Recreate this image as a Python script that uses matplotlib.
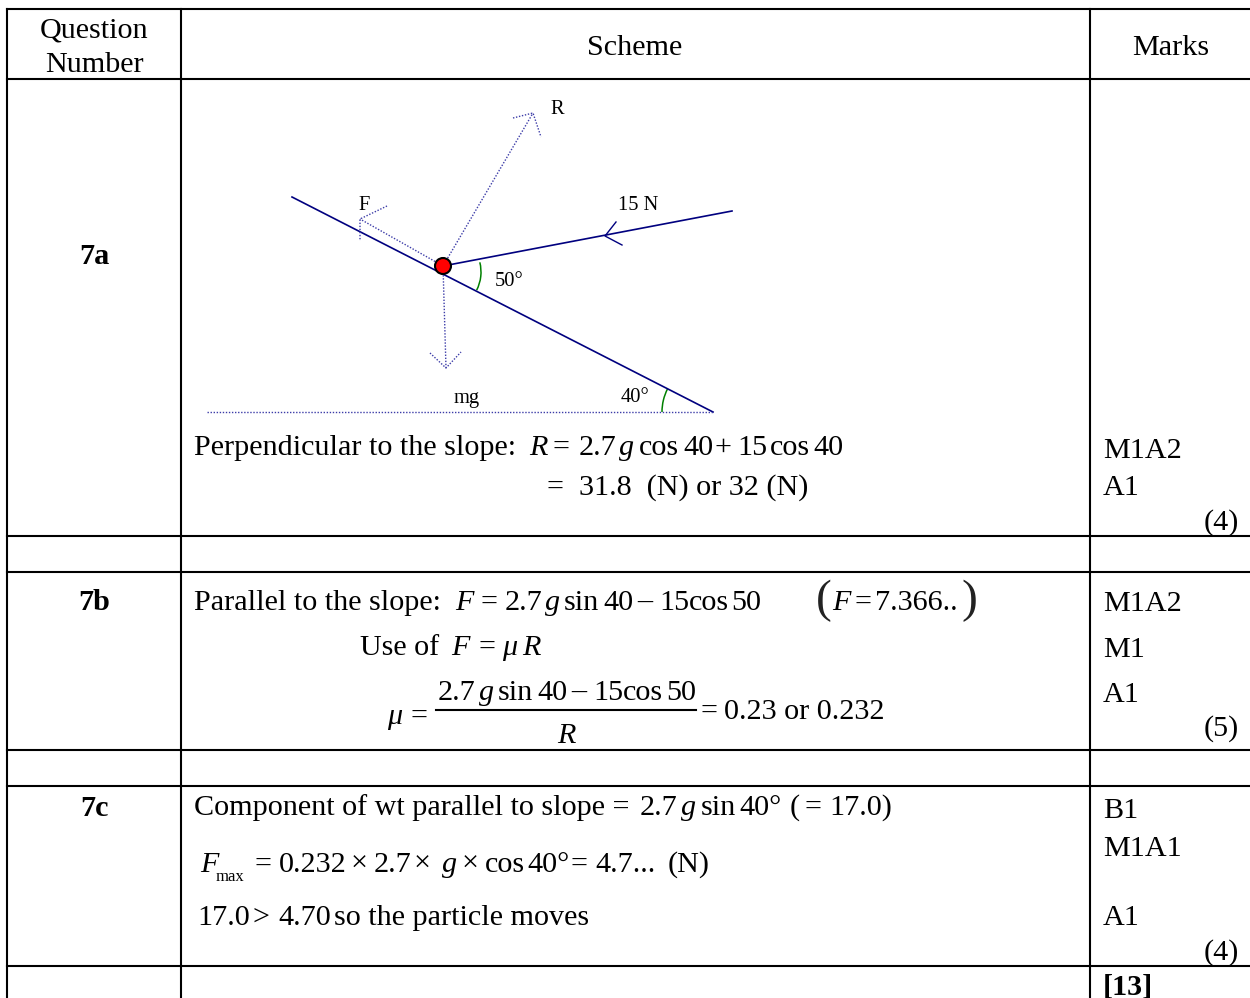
import matplotlib
matplotlib.use("Agg")
import matplotlib.pyplot as plt
from matplotlib.patches import Arc, Circle

W, H = 1250, 998
plt.rcParams['font.family'] = ['Liberation Serif', 'DejaVu Serif']

# table grid
h_rules = [9, 79, 536, 572, 750, 786, 966]
v_rules = [7, 181, 1090]

headers = [(94, 30, "Question"), (94, 65, "Number"),
           (635, 48, "Scheme"), (1171, 48, "Marks")]
question_ids = [(94, 257, "7a"), (94, 602, "7b"), (94, 809, "7c")]
marks = [(1103, 451, "M1A2"), (1103, 488, "A1"), (1239, 523, "(4)"),
         (1103, 604, "M1A2"), (1103, 650, "M1"), (1103, 695, "A1"), (1239, 729, "(5)"),
         (1103, 811, "B1"), (1103, 849, "M1A1"), (1103, 918, "A1"), (1239, 953, "(4)")]
total = (1103, 987, "[13]")

R = 'r'; I = 'i'
# working text, split into fragments: x, y centre, text, style
working = [
    (194, 448, "Perpendicular to the slope:", R),
    (529, 448, "R", I), (552, 448, "=", R), (579, 448, "2.7", R), (619, 448, "g", I),
    (639, 448, "cos", R), (683, 448, "40", R), (714, 448, "+", R), (737, 448, "15", R),
    (770, 448, "cos", R), (813, 448, "40", R),
    (547, 488, "=  31.8  (N) or 32 (N)", R),
    (194, 603, "Parallel to the slope:", R),
    (455, 603, "F", I), (480, 603, "=", R), (505, 603, "2.7", R), (545, 603, "g", I),
    (564, 603, "sin", R), (603, 603, "40", R), (637, 603, "–", R), (659, 603, "15", R),
    (689, 603, "cos", R), (731, 603, "50", R),
    (832, 603, "F", I), (854, 603, "=", R), (875, 603, "7.366..", R),
    (360, 648, "Use of", R), (451, 648, "F", I), (478, 648, "=", R), (502, 648, "μ", I),
    (522, 648, "R", I),
    (387, 717, "μ", I), (410, 717, "=", R),
    (438, 693, "2.7", R), (479, 693, "g", I), (498, 693, "sin", R), (537, 693, "40", R),
    (571, 693, "–", R), (593, 693, "15", R), (623, 693, "cos", R), (666, 693, "50", R),
    (557, 736, "R", I),
    (701, 712, "=", R), (724, 712, "0.23 or 0.232", R),
    (194, 808, "Component of wt parallel to slope =", R),
    (640, 808, "2.7", R), (681, 808, "g", I), (701, 808, "sin", R), (739, 808, "40°", R),
    (790, 808, "(", R), (805, 808, "=", R), (829, 808, "17.0)", R),
    (200, 865, "F", I),
    (254, 865, "=", R), (279, 865, "0.232", R), (351, 865, "×", R), (374, 865, "2.7", R),
    (414, 865, "×", R), (442, 865, "g", I), (462, 865, "×", R), (485, 865, "cos", R),
    (527, 865, "40°", R), (571, 865, "=", R), (595, 865, "4.7...", R), (668, 865, "(N)", R),
    (197, 918, "17.0", R), (253, 918, ">", R), (278, 918, "4.70", R),
    (334, 918, "so the particle moves", R),
]
subscript = (216, 877, "max")

# diagram
slope_x, slope_y = [292, 713], [197, 412]
force_x, force_y = [443, 732], [266, 211]
force_barb_x, force_barb_y = [616, 605, 622], [222, 236, 245]
ground_x, ground_y = [207, 713], [412, 412]
R_x, R_y = [443, 533], [266, 113]
R_head_x, R_head_y = [513, 533, 541], [118, 113, 137]
F_x, F_y = [443, 360], [266, 219]
F_head_x, F_head_y = [387, 360, 360], [206, 219, 241]
mg_x, mg_y = [443, 446], [266, 368]
mg_head_x, mg_head_y = [430, 446, 461], [353, 368, 352]
diagram_labels = [(557, 109, "R"), (364, 205, "F"), (638, 205, "15 N"),
                  (509, 282, "50°"), (467, 398, "mg"), (635, 398, "40°")]

NAVY = '#00007f'
DOT = '#3c3ca8'
GREEN = '#008000'
FS = 21.7

fig = plt.figure(figsize=(W / 100, H / 100), dpi=100)
ax = fig.add_axes([0, 0, 1, 1])
ax.set_xlim(0, W); ax.set_ylim(H, 0); ax.axis('off')

for y in h_rules:
    ax.plot([v_rules[0], W], [y, y], color='k', lw=1.5, solid_capstyle='projecting')
for x in v_rules:
    ax.plot([x, x], [h_rules[0], H], color='k', lw=1.5, solid_capstyle='projecting')

for x, y, s in headers:
    ax.text(x, y, s, ha='center', va='center', fontsize=FS)
for x, y, s in question_ids:
    ax.text(x, y, s, ha='center', va='center', fontsize=FS, fontweight='bold')
for x, y, s in marks:
    ax.text(x, y, s, ha='right' if s.startswith('(') else 'left', va='center', fontsize=FS)
ax.text(total[0], total[1], total[2], va='center', fontsize=FS, fontweight='bold')
for x, y, s, st in working:
    ax.text(x, y, s, va='center', fontsize=FS, fontstyle='italic' if st == I else 'normal')
ax.text(subscript[0], subscript[1], subscript[2], va='center', fontsize=12)

# tall parentheses and fraction bar
ax.text(816, 601, "(", va='center', fontsize=34, color='#222222')
ax.text(961, 601, ")", va='center', fontsize=34, color='#222222')
ax.plot([436, 696], [710, 710], color='k', lw=1.5)

for xs, ys in [(slope_x, slope_y), (force_x, force_y)]:
    ax.plot(xs, ys, color=NAVY, lw=1.2)
ax.plot(force_barb_x, force_barb_y, color=NAVY, lw=1.0)
for xs, ys in [(ground_x, ground_y), (R_x, R_y), (R_head_x, R_head_y), (F_x, F_y),
               (F_head_x, F_head_y), (mg_x, mg_y), (mg_head_x, mg_head_y)]:
    ax.plot(xs, ys, color=DOT, lw=1.0, ls=(0, (1, 1.2)))
ax.add_patch(Arc((441, 272), 80, 80, theta1=-14, theta2=27, color=GREEN, lw=1.1))
ax.add_patch(Arc((713, 412), 102, 102, theta1=180, theta2=207, color=GREEN, lw=1.1))
ax.add_patch(Circle((443, 266), 8, facecolor='#ff0000', edgecolor='k', lw=1.5, zorder=5))
for x, y, s in diagram_labels:
    ax.text(x, y, s, ha='center', va='center', fontsize=14.8)

fig.savefig('out.png', dpi=100, facecolor='white')
